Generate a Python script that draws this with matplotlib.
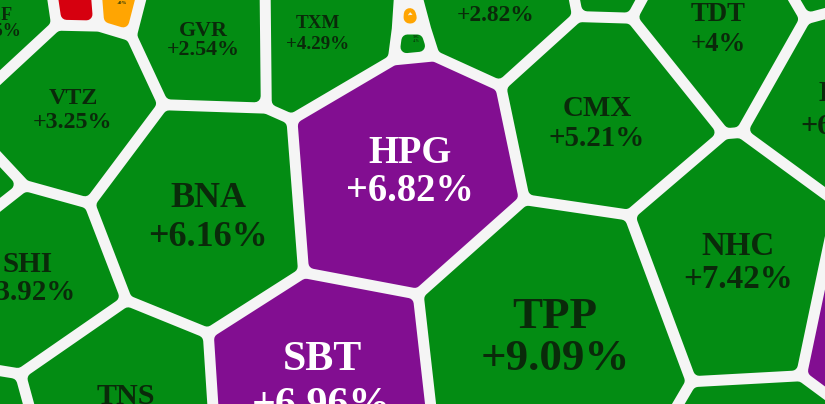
import numpy as np
import matplotlib
matplotlib.use("Agg")
import matplotlib.pyplot as plt
from matplotlib.patches import Polygon

W, H = 825, 404
DPI = 100

# ---- data -------------------------------------------------------------
tickers = ["VEF", "", "", "GVR", "TXM", "", "TNC", "", "", "TDT", "", "HSG",
           "VTZ", "", "CMX", "HPG", "BNA", "SHI", "NHC", "TPP", "SBT", "TNS", "", "", ""]
changes = ["+1.5%", "", "+0%", "+2.54%", "+4.29%", "", "+1%", "+2.82%", "", "+4%", "", "+6.50%",
           "+3.25%", "", "+5.21%", "+6.82%", "+6.16%", "+3.92%", "+7.42%", "+9.09%", "+6.96%", "+5.00%",
           "", "", ""]
kinds = ["g", "r", "o", "g", "g", "o", "g", "g", "g", "g", "g", "g",
         "g", "g", "g", "p", "g", "g", "g", "g", "p", "g", "g", "p", "g"]

# ---- layout (power-diagram sites, weights, label anchors) -------------
seed_x = [10.2, 88.1, 114.7, 228.0, 297.3, 375.0, 375.0, 469.5, 595.6, 710.4, 820.4, 860.7,
          86.0, -20.2, 590.8, 389.2, 222.4, 38.0, 732.0, 556.7, 349.2, 136.0, 9.3, 851.5, 741.5]
seed_y = [2.4, -9.1, -11.2, 18.0, 17.3, 22.5, 27.5, -2.7, -27.1, 35.4, -29.3, 120.5,
          84.2, 183.4, 131.4, 173.6, 186.4, 257.4, 296.5, 361.8, 385.2, 399.0, 433.6, 321.6, 470.5]
seed_w = [23125, 22613, 22897, 30073, 29694, 20101, 20061, 20418, 10564, 13702, 6962, 17793,
          24796, 12791, 21699, 31616, 28527, 16122, 30343, 39973, 29248, 16215, 5887, 24722, 31815]
lab_x = [-5, 78, 122, 203, 318, 411, 416, 496, 605, 718, 825, 850,
         73, -25, 597, 410, 208, 28, 738, 555, 322, 126, -20, 855, 770]
lab_y = [23.8, -10, 1, 40.2, 34.4, 16, 39, 4.2, -14, 29.7, -12, 110,
         110.7, 168, 123.9, 172.9, 217.9, 278.9, 263, 338.3, 383, 411.5, 400, 340, 430]
lab_em = [18, 8, 5, 22, 19, 3, 3.2, 23.5, 10, 26.8, 10, 30,
          24, 10, 29, 38.5, 36, 29, 33, 45, 42, 30, 10, 10, 10]
lab_gap = [0.89, 1, 1, 0.86, 1.1, 1, 1.2, 1.0, 1, 1.12, 1, 1.13,
           0.98, 1, 1.03, 0.99, 1.07, 0.97, 1.02, 0.94, 1.11, 1.0, 1, 1, 1]

fill = {"g": "#038C13", "p": "#820E91", "r": "#D6000F", "o": "#FFA502"}
txtc = {"g": "#0A2A0A", "p": "#FFFFFF", "r": "#FFFFFF", "o": "#0A2A0A"}
BG = "#F5F5F5"
GAP, RAD = 11, 6

n = len(kinds)
P = np.column_stack([seed_x, seed_y]).astype(float)
C = np.array(seed_w, float) - (P ** 2).sum(1)


def clip(poly, a, b):
    out = []
    m = len(poly)
    for k in range(m):
        p = poly[k]; q = poly[(k + 1) % m]
        sp = a[0] * p[0] + a[1] * p[1] - b
        sq = a[0] * q[0] + a[1] * q[1] - b
        if sp <= 0:
            out.append(p)
        if sp * sq < 0:
            t = sp / (sp - sq)
            out.append((p[0] + t * (q[0] - p[0]), p[1] + t * (q[1] - p[1])))
    return out


def cell(i, inset):
    poly = [(-400, -400), (W + 400, -400), (W + 400, H + 400), (-400, H + 400)]
    for j in range(n):
        if j == i:
            continue
        a = P[j] - P[i]
        na = np.hypot(*a)
        if na < 1e-9:
            continue
        b = (C[i] - C[j]) / 2 - inset * na
        poly = clip(poly, a, b)
        if len(poly) < 3:
            return []
    return poly


fig = plt.figure(figsize=(W / DPI, H / DPI), dpi=DPI)
fig.patch.set_facecolor(BG)
ax = fig.add_axes([0, 0, 1, 1])
ax.set_xlim(0, W); ax.set_ylim(H, 0); ax.axis("off")

for i in range(n):
    poly = []
    for r_eff in (RAD, RAD / 2, 0):
        poly = cell(i, GAP / 2 + r_eff)
        if poly:
            break
    if not poly:
        continue
    col = fill[kinds[i]]
    ax.add_patch(Polygon(poly, closed=True, fc=col, ec=col,
                         lw=2 * r_eff * 72 / DPI, joinstyle="round"))
    fs = lab_em[i] * 72 / DPI
    half = 0.5 * lab_gap[i] * lab_em[i]
    for txt, dy in ((tickers[i], -half), (changes[i], half)):
        if txt:
            ax.text(lab_x[i], lab_y[i] + dy, txt, ha="center", va="center",
                    fontsize=fs, family="Liberation Serif", weight="bold",
                    color=txtc[kinds[i]], clip_on=True)

fig.savefig("out.png", dpi=DPI, facecolor=BG)
